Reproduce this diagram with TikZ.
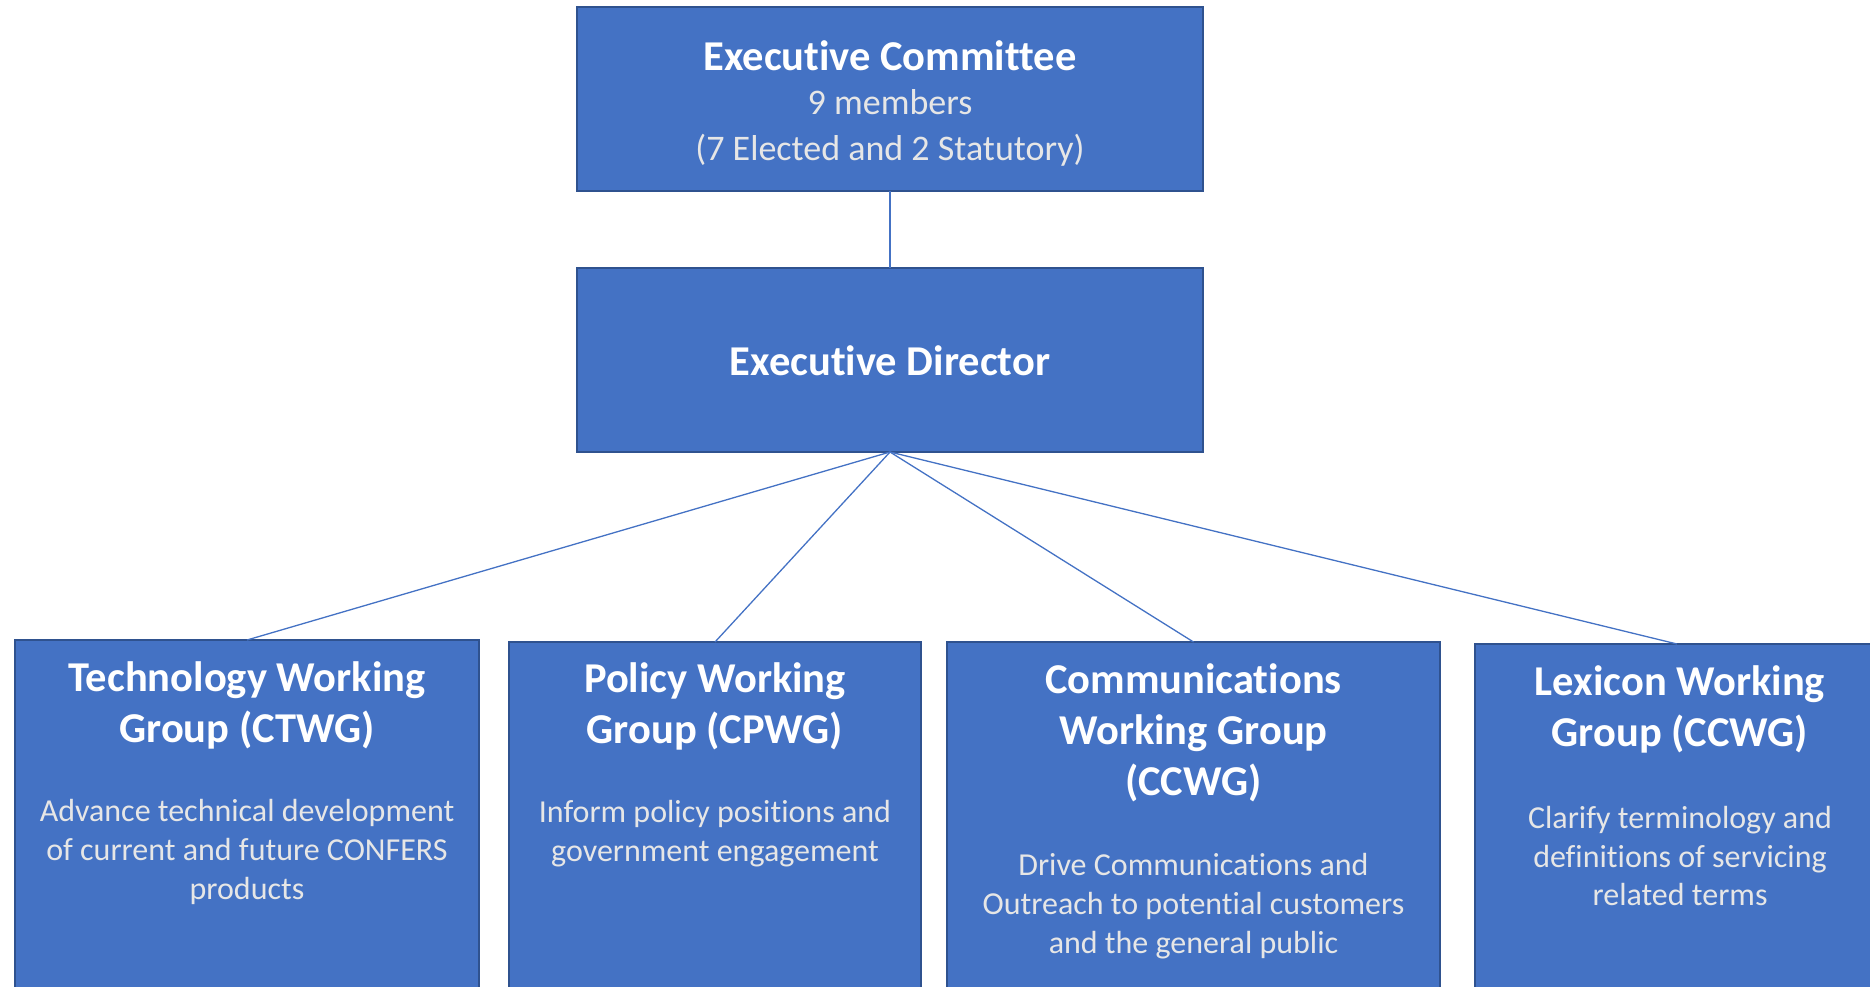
\documentclass[tikz,border=0pt]{standalone}
\usepackage{fontspec}
\setmainfont{Carlito}[RawFeature={-liga;-clig;-dlig;-calt;-rlig}]
\definecolor{boxblue}{HTML}{4472C4}
\definecolor{boxedge}{HTML}{2F528F}
\definecolor{desccol}{HTML}{E6E6E6}
\begin{document}
\begin{tikzpicture}[x=1pt,y=-1pt,
  box/.style={draw=boxedge, line width=2.2pt, fill=boxblue, inner sep=0pt, outer sep=0pt},
  ttl/.style={text=white, font=\fontsize{42.5}{51}\selectfont\bfseries, align=center, inner sep=0pt},
  dsc/.style={text=desccol, font=\fontsize{32}{38.8}\selectfont, align=center, inner sep=0pt},
  link/.style={draw=boxblue, line width=1.3pt}]
\useasboundingbox (0,0) rectangle (1870,986);
\clip (0,0) rectangle (1870,986);
% boxes
\node[box, minimum width=626pt, minimum height=184pt] (ec) at (890,99) {};
\node[box, minimum width=626pt, minimum height=184pt] (ed) at (890,360) {};
\node[box, minimum width=464pt, minimum height=360pt] (b1) at (247,820) {};
\node[box, minimum width=412pt, minimum height=358pt] (b2) at (715,821) {};
\node[box, minimum width=493pt, minimum height=358pt] (b3) at (1193.5,821) {};
\node[box, minimum width=404pt, minimum height=356pt] (b4) at (1677,822) {};
% connectors
\draw[link] (ec.south) -- (ed.north);
\draw[link] (ed.south) -- (b1.north);
\draw[link] (ed.south) -- (b2.north);
\draw[link] (ed.south) -- (b3.north);
\draw[link] (ed.south) -- (b4.north);
% texts
\node[ttl] (ect) at (890,56) {Executive Committee};
\node[dsc, font=\fontsize{36}{46}\selectfont] (ecs) at (890,128) {9 members\\(7 Elected and 2 Statutory)};
\node[ttl] (edt) at (890,361) {Executive Director};
\node[ttl] (t1) at (247,705) {Technology Working\\Group (CTWG)};
\node[dsc] (d1) at (247,852) {Advance technical development\\of current and future CONFERS\\products};
\node[ttl] (t2) at (715,706) {Policy Working\\Group (CPWG)};
\node[dsc] (d2) at (715,834) {Inform policy positions and\\government engagement};
\node[ttl] (t3) at (1193.5,733) {Communications\\Working Group\\(CCWG)};
\node[dsc] (d3) at (1193.5,906) {Drive Communications and\\Outreach to potential customers\\and the general public};
\node[ttl] (t4) at (1680,709) {Lexicon Working\\Group (CCWG)};
\node[dsc] (d4) at (1680,856) {Clarify terminology and\\definitions of servicing\\related terms};
\end{tikzpicture}
\end{document}
